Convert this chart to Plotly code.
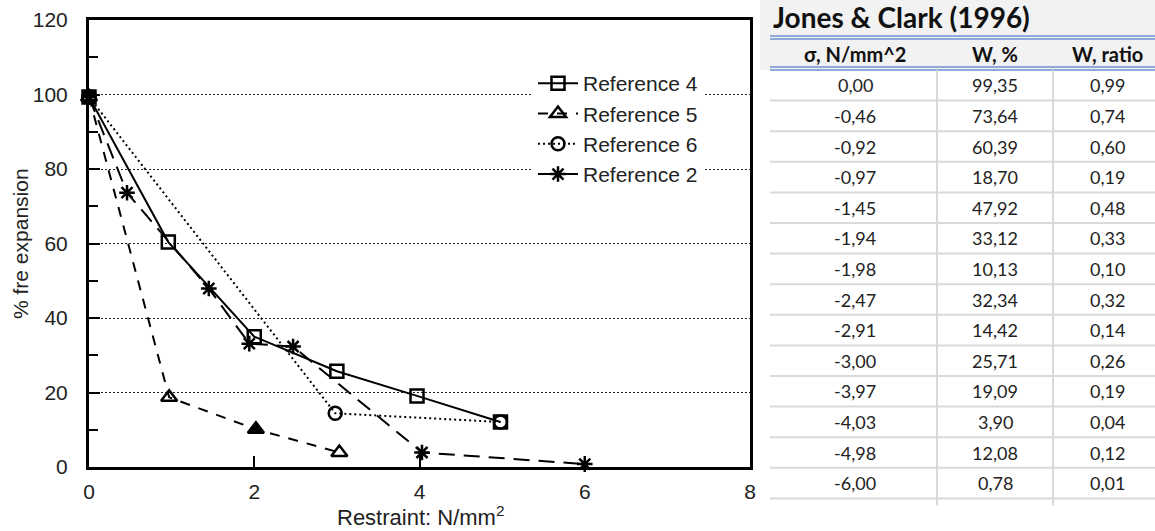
import plotly.graph_objects as go

W, H = 1155, 531

# ---- chart data ----
ref4_x = [0.0, 0.96, 2.0, 3.0, 3.97, 4.98]
ref4_y = [99.35, 60.39, 35.0, 25.71, 19.09, 12.08]
ref5_x = [0.0, 0.97, 2.02, 3.03]
ref5_y = [99.35, 18.70, 10.13, 3.9]
ref6_x = [0.0, 2.98, 4.98]
ref6_y = [99.35, 14.42, 12.08]
ref2_x = [0.0, 0.46, 1.45, 1.94, 2.47, 4.03, 6.00]
ref2_y = [99.35, 73.64, 47.92, 33.12, 32.34, 3.90, 0.78]

# ---- table data ----
table_title = "Jones & Clark (1996)"
table_headers = ["σ, N/mm^2", "W, %", "W, ratio"]
col_sigma = ["0,00", "-0,46", "-0,92", "-0,97", "-1,45", "-1,94", "-1,98",
             "-2,47", "-2,91", "-3,00", "-3,97", "-4,03", "-4,98", "-6,00"]
col_w = ["99,35", "73,64", "60,39", "18,70", "47,92", "33,12", "10,13",
         "32,34", "14,42", "25,71", "19,09", "3,90", "12,08", "0,78"]
col_ratio = ["0,99", "0,74", "0,60", "0,19", "0,48", "0,33", "0,10",
             "0,32", "0,14", "0,26", "0,19", "0,04", "0,12", "0,01"]


def px(x):
    return x / W


def py(y):
    return 1 - y / H


FONT = "Liberation Sans, Arial, sans-serif"
TFONT = "Lato, Calibri, sans-serif"

fig = go.Figure()
fig.add_trace(go.Scatter(x=ref4_x, y=ref4_y, name="Reference 4", mode="lines+markers",
                         line=dict(color="black", width=2),
                         marker=dict(symbol="square-open", size=13, color="black", line=dict(width=2.5)),
                         cliponaxis=False))
fig.add_trace(go.Scatter(x=ref5_x, y=ref5_y, name="Reference 5", mode="lines+markers",
                         line=dict(color="black", width=2, dash="10px,9px"),
                         marker=dict(symbol=["triangle-up-open", "triangle-up-open", "triangle-up", "triangle-up-open"],
                                     size=14, color="black", line=dict(width=2.5, color="black")),
                         cliponaxis=False))
fig.add_trace(go.Scatter(x=ref6_x, y=ref6_y, name="Reference 6", mode="lines+markers",
                         line=dict(color="black", width=2, dash="2px,3px"),
                         marker=dict(symbol="circle-open", size=13, color="black", line=dict(width=2.5)),
                         cliponaxis=False))
fig.add_trace(go.Scatter(x=ref2_x, y=ref2_y, name="Reference 2", mode="lines+markers",
                         line=dict(color="black", width=2, dash="16px,9px"),
                         marker=dict(symbol="asterisk-open", size=13, color="black", line=dict(width=2.5, color="black")),
                         cliponaxis=False))

fig.update_xaxes(domain=[px(89), px(750)], range=[0, 8], tickvals=[0, 2, 4, 6, 8],
                 ticks="inside", ticklen=11, tickwidth=2, tickcolor="black",
                 showline=True, linecolor="black", linewidth=2.5, mirror=True,
                 showgrid=False, zeroline=False, automargin=False,
                 tickfont=dict(family=FONT, size=21, color="#222"), ticklabelstandoff=4)
fig.update_yaxes(domain=[1 - 467 / H, 1 - 20 / H], range=[0, 120], tickvals=[0, 20, 40, 60, 80, 100, 120],
                 ticks="inside", ticklen=11, tickwidth=2, tickcolor="black",
                 minor=dict(dtick=10, ticks="inside", ticklen=9, tickwidth=2, tickcolor="black", showgrid=False),
                 showline=True, linecolor="black", linewidth=3, mirror=True,
                 showgrid=True, gridcolor="#222", gridwidth=1, griddash="2px,2px",
                 zeroline=False, automargin=False,
                 tickfont=dict(family=FONT, size=21, color="#222"), ticklabelstandoff=14)

annotations = [
    dict(x=px(420), y=py(516), xref="paper", yref="paper", text="Restraint: N/mm<sup>2</sup>",
         showarrow=False, font=dict(family=FONT, size=22, color="#222"), xanchor="center", yanchor="middle"),
    dict(x=px(20), y=py(244), xref="paper", yref="paper", text="% fre expansion", textangle=-90,
         showarrow=False, font=dict(family=FONT, size=21, color="#222"), xanchor="center", yanchor="middle"),
    dict(x=px(771), y=py(17), xref="paper", yref="paper", text="<b>" + table_title + "</b>",
         showarrow=False, font=dict(family=TFONT, size=28, color="#111"), xanchor="left", yanchor="middle"),
]

shapes = [
    dict(type="rect", xref="paper", yref="paper", x0=px(760), x1=1, y0=py(0), y1=py(70),
         fillcolor="#f2f2f2", line=dict(width=0), layer="below"),
]
BLUE = "#8eaadb"
for yy in [36, 39, 67, 70]:
    shapes.append(dict(type="line", xref="paper", yref="paper", x0=px(770), x1=1, y0=py(yy), y1=py(yy),
                       line=dict(color=BLUE, width=2)))

col_centers = [855, 995, 1107]
for c, h in zip(col_centers, table_headers):
    annotations.append(dict(x=px(c), y=py(54), xref="paper", yref="paper", text="<b>" + h + "</b>",
                            showarrow=False, font=dict(family=TFONT, size=20, color="#111"),
                            xanchor="center", yanchor="middle"))

row_top, row_h = 70, 30.6
n = len(col_sigma)
for i in range(n):
    yc = row_top + row_h * (i + 0.5)
    for c, col in zip(col_centers, [col_sigma, col_w, col_ratio]):
        annotations.append(dict(x=px(c), y=py(yc), xref="paper", yref="paper", text=col[i],
                                showarrow=False, font=dict(family=TFONT, size=18, color="#222"),
                                xanchor="center", yanchor="middle"))
    yl = row_top + row_h * (i + 1)
    shapes.append(dict(type="line", xref="paper", yref="paper", x0=px(770), x1=1, y0=py(yl), y1=py(yl),
                       line=dict(color="#d9d9d9", width=2)))
for xv in [937, 1053]:
    shapes.append(dict(type="line", xref="paper", yref="paper", x0=px(xv), x1=px(xv),
                       y0=py(70), y1=py(row_top + row_h * n + 7), line=dict(color="#d9d9d9", width=2)))

fig.update_layout(
    width=W, height=H, margin=dict(l=0, r=0, t=0, b=0),
    paper_bgcolor="white", plot_bgcolor="white",
    annotations=annotations, shapes=shapes,
    legend=dict(x=px(533), y=py(63), xanchor="left", yanchor="top", bgcolor="white",
                font=dict(family=FONT, size=21, color="#222"), itemwidth=40, tracegroupgap=0),
    showlegend=True,
)

fig.write_html("out.html")
